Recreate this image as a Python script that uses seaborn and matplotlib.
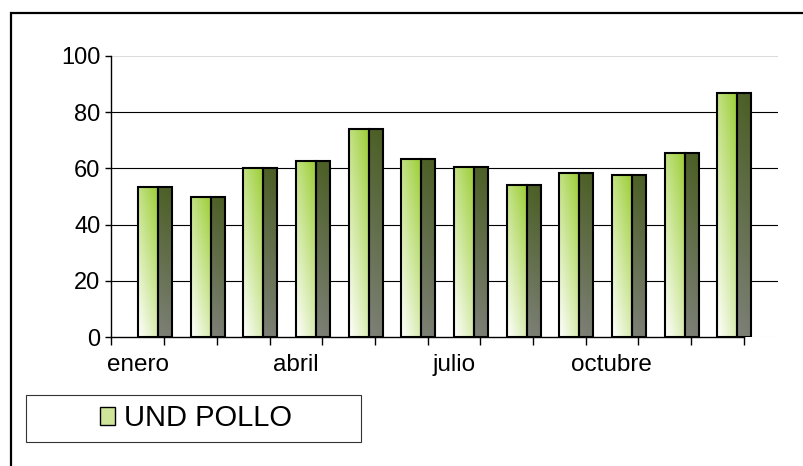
import numpy as np
import matplotlib
matplotlib.use('Agg')
import matplotlib.pyplot as plt
import seaborn as sns
from matplotlib.patches import Rectangle, Patch
from matplotlib.colors import to_rgb

# data
months = ['enero', 'febrero', 'marzo', 'abril', 'mayo', 'junio', 'julio',
          'agosto', 'septiembre', 'octubre', 'noviembre', 'diciembre']
und_pollo = [53.5, 50, 60, 62.5, 74, 63.5, 60.5, 54, 58.5, 57.5, 65.5, 87]
y_ticks = [0, 20, 40, 60, 80, 100]
series_name = 'UND POLLO'

FRONT_W = 0.38   # front face of each pseudo-3d column
SIDE_W = 0.27    # shaded side face
SHIFT = 0.19     # column is drawn right of the category centre

sns.set_style('ticks')
plt.rcParams['font.family'] = ['Liberation Sans', 'DejaVu Sans']
plt.rcParams['text.color'] = 'black'
plt.rcParams['xtick.labelcolor'] = 'black'
plt.rcParams['ytick.labelcolor'] = 'black'


def fill_gradient(ax, patch, lo, hi, wu, wv):
    x0, w, h = patch.get_x(), patch.get_width(), patch.get_height()
    u = np.linspace(0, 1, 40)[None, :]
    v = np.linspace(1, 0, 80)[:, None]
    t = np.clip(wu * u + wv * v, 0, 1)[..., None]
    img = np.array(to_rgb(lo)) * (1 - t) + np.array(to_rgb(hi)) * t
    im = ax.imshow(img, extent=(x0, x0 + w, 0, h), aspect='auto',
                   origin='upper', interpolation='bilinear', zorder=2.5)
    im.set_clip_path(patch)
    patch.set_facecolor('none')
    patch.set_zorder(3)


fig = plt.figure(figsize=(8.04, 4.66), dpi=100)
ax = fig.add_axes([111.5 / 804, 129 / 466, 666.5 / 804, 281 / 466])

# front faces
sns.barplot(x=months, y=und_pollo, width=FRONT_W, color='#c8e08a',
            edgecolor='black', linewidth=1.5, ax=ax)
front = list(ax.patches)

# side faces
pos = np.arange(len(months))
side = ax.bar(pos + FRONT_W / 2, und_pollo, width=SIDE_W, align='edge',
              color='#667060', edgecolor='black', linewidth=1.5)

for p in front:
    fill_gradient(ax, p, '#ffffff', '#9acd32', 0.4, 0.6)
for p in side:
    fill_gradient(ax, p, '#7e8179', '#4a5e22', 0.1, 0.9)

# y axis / grid
ax.set_ylim(0, 100)
ax.set_yticks(y_ticks)
ax.yaxis.grid(True, color='black', linewidth=0.8)
ax.set_axisbelow(True)
for val, gl in zip(y_ticks, ax.get_ygridlines()):
    if val in (0, 100):
        gl.set_color('#dcdcdc')

# x axis: ticks on category boundaries, labels on centres (every 3rd)
edges = np.arange(len(months) + 1) - 0.5 - SHIFT
ax.set_xticks(edges)
ax.set_xticks(pos - SHIFT, minor=True)
ax.set_xticklabels([m if i % 3 == 0 else '' for i, m in enumerate(months)],
                   minor=True)
ax.set_xlim(edges[0], edges[0] + 666.5 / 52.67)
ax.set_xlabel('')
ax.set_ylabel('')

ax.tick_params(axis='x', which='major', length=6, width=1, color='black',
               labelbottom=False)
ax.tick_params(axis='x', which='minor', length=0, pad=12, labelsize=17.5,
               labelcolor='black')
ax.tick_params(axis='y', length=4, width=1, color='black', pad=4,
               labelsize=17, labelcolor='black')

sns.despine(ax=ax, top=True, right=True)
for s in ('left', 'bottom'):
    ax.spines[s].set_color('black')
    ax.spines[s].set_linewidth(1)
ax.spines['left'].set_bounds(0, 100)
ax.spines['bottom'].set_bounds(edges[0], edges[-1])

# legend with its own square frame
fig.patches.append(Rectangle((26 / 804, 24 / 466), 335 / 804, 47 / 466,
                             transform=fig.transFigure, fill=False,
                             edgecolor='#333333', linewidth=0.8))
fig.legend(handles=[Patch(facecolor='#cfe59a', edgecolor='black',
                          linewidth=1, label=series_name)],
           loc='center', bbox_to_anchor=(196 / 804, 1 - 418.5 / 466),
           frameon=False, fontsize=21, handlelength=0.5, handleheight=0.6,
           handletextpad=0.3, labelcolor='black')

# outer chart frame (runs off the right and bottom edges)
fig.patches.append(Rectangle((11 / 804, -0.1), 1.0, 1.1 - 13 / 466,
                             transform=fig.transFigure, fill=False,
                             edgecolor='black', linewidth=1.6))

fig.savefig('out.png', dpi=100)
